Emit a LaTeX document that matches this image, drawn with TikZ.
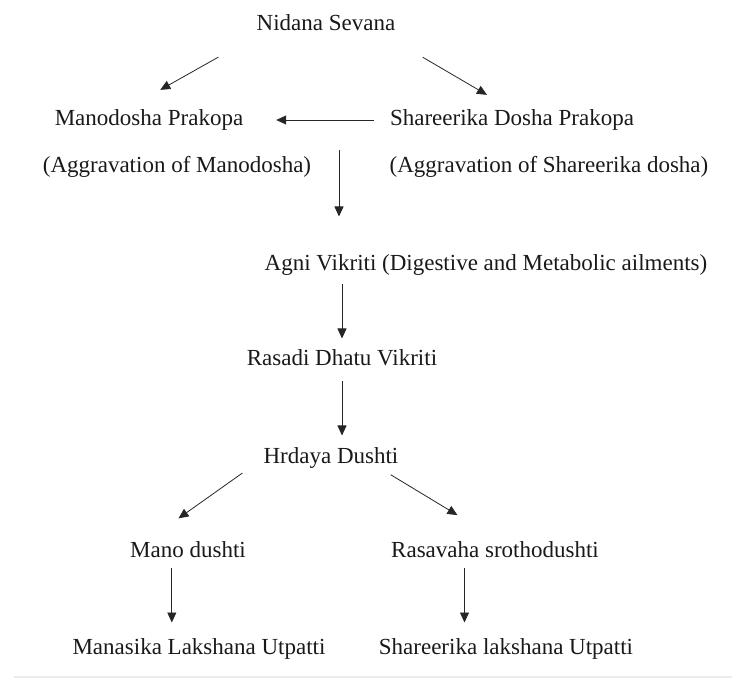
\documentclass[tikz,border=0pt]{standalone}
\usepackage{fontspec}
\setmainfont{Liberation Serif}
\usetikzlibrary{arrows.meta}
\begin{document}
\begin{tikzpicture}[x=1pt,y=-1pt]
    \tikzstyle{lbl}=[inner sep=0pt,outer sep=0pt,text height=16pt,text depth=5pt,font=\fontsize{23}{27}\selectfont,text=black!90]
    \tikzstyle{arr}=[-{Triangle[length=10pt,width=9pt]},line width=.8pt,black!85]

    \useasboundingbox (0,0) rectangle (732,679);

    %top
    \node[lbl] (nid) at (326,25) {Nidana Sevana};
    \node[lbl] (mano) at (149,120) {Manodosha Prakopa};
    \node[lbl] (shar) at (512,120) {Shareerika Dosha Prakopa};
    \node[lbl] (aggm) at (177,167) {(Aggravation of Manodosha)};
    \node[lbl] (aggs) at (549,167) {(Aggravation of Shareerika dosha)};
    \coordinate (fork) at (339,150);

    %middle
    \node[lbl] (agni) at (486,265) {Agni Vikriti (Digestive and Metabolic ailments)};
    \node[lbl] (rasadi) at (342,360) {Rasadi Dhatu Vikriti};
    \node[lbl] (hrdaya) at (331,458) {Hrdaya Dushti};

    %bottom
    \node[lbl] (manod) at (188,552) {Mano dushti};
    \node[lbl] (rasav) at (495,552) {Rasavaha srothodushti};
    \node[lbl] (manas) at (199,649) {Manasika Lakshana Utpatti};
    \node[lbl] (sharl) at (506,649) {Shareerika lakshana Utpatti};

    %arrows
    \draw[arr,shorten <=44pt,shorten >=40pt] (nid.south west) -- (mano.156);
    \draw[arr,shorten <=43pt,shorten >=29pt] (nid.-10) -- (shar.north);
    \draw[arr,shorten <=16pt,shorten >=33pt] (shar.west) -- (mano.east);
    \draw[arr,shorten >=38pt] (fork) -- (fork |- agni.north);
    \draw[arr,shorten <=9pt,shorten >=11pt] (rasadi.north |- agni.south) -- (rasadi.north);
    \draw[arr,shorten <=11pt,shorten >=12pt] (rasadi.south) -- (rasadi.south |- hrdaya.north);
    \draw[arr,shorten <=26pt,shorten >=40pt] (hrdaya.west) -- (manod.166);
    \draw[arr,shorten <=12pt,shorten >=51pt] (hrdaya.-12) -- (rasav.60);
    \draw[arr,shorten <=5pt,shorten >=16pt] (manod.213) -- (manod.213 |- manas.north);
    \draw[arr,shorten <=5pt,shorten >=16pt] (rasav.199) -- (rasav.199 |- sharl.north);

    \draw[black!8,line width=1.5pt] (14,677) -- (732,677);
\end{tikzpicture}
\end{document}
